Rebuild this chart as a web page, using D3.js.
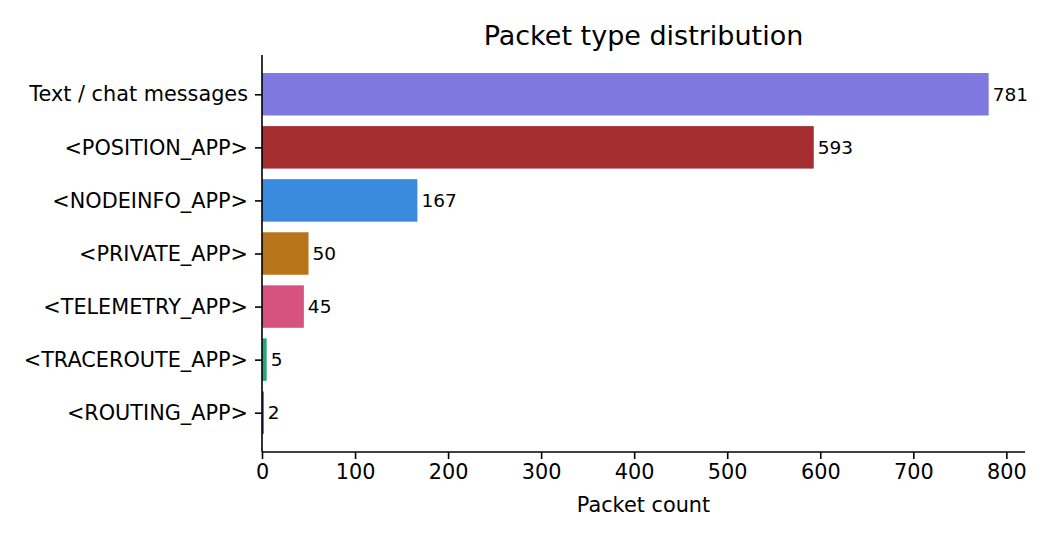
<!DOCTYPE html>
<html>
<head>
<meta charset="utf-8">
<script src="https://cdn.jsdelivr.net/npm/d3@7"></script>
<style>
  body { margin: 0; background: #fff; }
  svg { font-family: "DejaVu Sans", sans-serif; }
</style>
</head>
<body>
<svg id="chart"></svg>
<script>
// packet types, top to bottom
const categories = [
    "Text / chat messages",
    "<POSITION_APP>",
    "<NODEINFO_APP>",
    "<PRIVATE_APP>",
    "<TELEMETRY_APP>",
    "<TRACEROUTE_APP>",
    "<ROUTING_APP>"
];
const counts = [781, 593, 167, 50, 45, 5, 2];
const colors = ["#7f78de", "#a32d2f", "#3a8ade", "#b87418", "#d6537f", "#2aa57a", "#5a4fd6"];
const xTicks = [0, 100, 200, 300, 400, 500, 600, 700, 800];

const width = 1050, height = 540;
const margin = { top: 55, right: 25, bottom: 88, left: 262 };
const innerW = width - margin.left - margin.right;
const innerH = height - margin.top - margin.bottom;

const svg = d3.select("#chart")
    .attr("width", width)
    .attr("height", height);

const g = svg.append("g")
    .attr("transform", `translate(${margin.left}, ${margin.top})`);

const data = categories.map((c, i) => ({ name: c, value: counts[i], color: colors[i] }));

const xScale = d3.scaleLinear()
    .domain([0, d3.max(counts) * 1.05])
    .range([0, innerW]);

// matplotlib-like band: bar height 0.8, 0.05 margins on the data range
const n = categories.length;
const yLinear = d3.scaleLinear()
    .domain([-0.4 - 0.34, n - 1 + 0.4 + 0.34])
    .range([0, innerH]);
const barH = yLinear(0.8) - yLinear(0);

g.selectAll("rect.bar")
    .data(data)
    .join("rect")
    .attr("class", "bar")
    .attr("x", 0)
    .attr("y", (d, i) => yLinear(i - 0.4))
    .attr("width", d => xScale(d.value))
    .attr("height", barH)
    .attr("fill", d => d.color);

g.selectAll("text.value")
    .data(data)
    .join("text")
    .attr("class", "value")
    .attr("x", d => xScale(d.value) + 4)
    .attr("y", (d, i) => yLinear(i))
    .attr("dy", "0.35em")
    .style("font-size", "18.5px")
    .style("fill", "#000")
    .text(d => d.value);

// x axis
const xAxis = g.append("g")
    .attr("transform", `translate(0, ${innerH})`)
    .call(d3.axisBottom(xScale).tickValues(xTicks).tickSize(7).tickPadding(5));

// y axis
const yAxis = g.append("g")
    .call(d3.axisLeft(yLinear).tickValues(d3.range(n)).tickFormat(i => categories[i]).tickSize(7).tickPadding(7));

[xAxis, yAxis].forEach(ax => {
    ax.select(".domain").attr("stroke", "#000").attr("stroke-width", 1.6);
    ax.selectAll(".tick line").attr("stroke", "#000").attr("stroke-width", 1.6);
    ax.selectAll(".tick text")
        .style("font-family", "DejaVu Sans, sans-serif")
        .style("font-size", "20.8px")
        .style("fill", "#000");
});
// remove end caps from the domain path
xAxis.select(".domain").attr("d", `M0,0H${innerW}`);
yAxis.select(".domain").attr("d", `M0,0V${innerH}`);

svg.append("text")
    .attr("x", margin.left + innerW / 2)
    .attr("y", 512)
    .attr("text-anchor", "middle")
    .style("font-size", "20.8px")
    .text("Packet count");

svg.append("text")
    .attr("x", margin.left + innerW / 2)
    .attr("y", 45)
    .attr("text-anchor", "middle")
    .style("font-size", "27px")
    .text("Packet type distribution");
</script>
</body>
</html>
